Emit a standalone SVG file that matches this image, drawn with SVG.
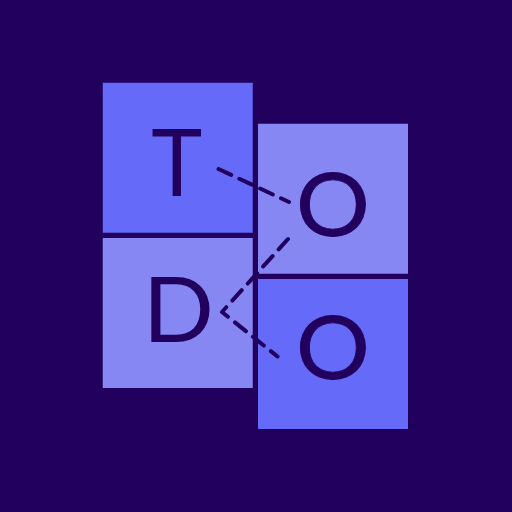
<svg xmlns="http://www.w3.org/2000/svg" width="512" height="512" viewBox="0 0 512 512">
<style>
.a{fill:#656af8}
.b{fill:#8787f4}
.t{font-family:Lato,"Noto Sans",sans-serif;font-size:91px;fill:#22015e;text-anchor:middle}
.o{font-size:87px;stroke:#22015e;stroke-width:.8}
.c{fill:none;stroke:#22015e;stroke-width:4;stroke-dasharray:14 9;stroke-linecap:round;stroke-linejoin:round}
</style>
<rect width="512" height="512" fill="#22015e"/>
<g id="node-t"><rect class="a" x="102.750" y="82.750" width="150" height="150"/><text class="t" transform="translate(176.700 195.500) scale(.95 1.02)">T</text></g>
<g id="node-d"><rect class="b" x="102.750" y="238" width="150" height="150"/><text class="t" transform="translate(178.500 342) scale(1.03 1)">D</text></g>
<g id="node-o1"><rect class="b" x="258" y="123.750" width="150" height="150"/><text class="t o" transform="translate(333 236) scale(1.06 1)">O</text></g>
<g id="node-o2"><rect class="a" x="258" y="279" width="150" height="150"/><text class="t o" transform="translate(333 379) scale(1.06 1)">O</text></g>
<g id="connectors"><path class="c" d="M218.500 169L289 202"/><path class="c" d="M288 239L222 312L277.500 356.500"/></g>
</svg>
